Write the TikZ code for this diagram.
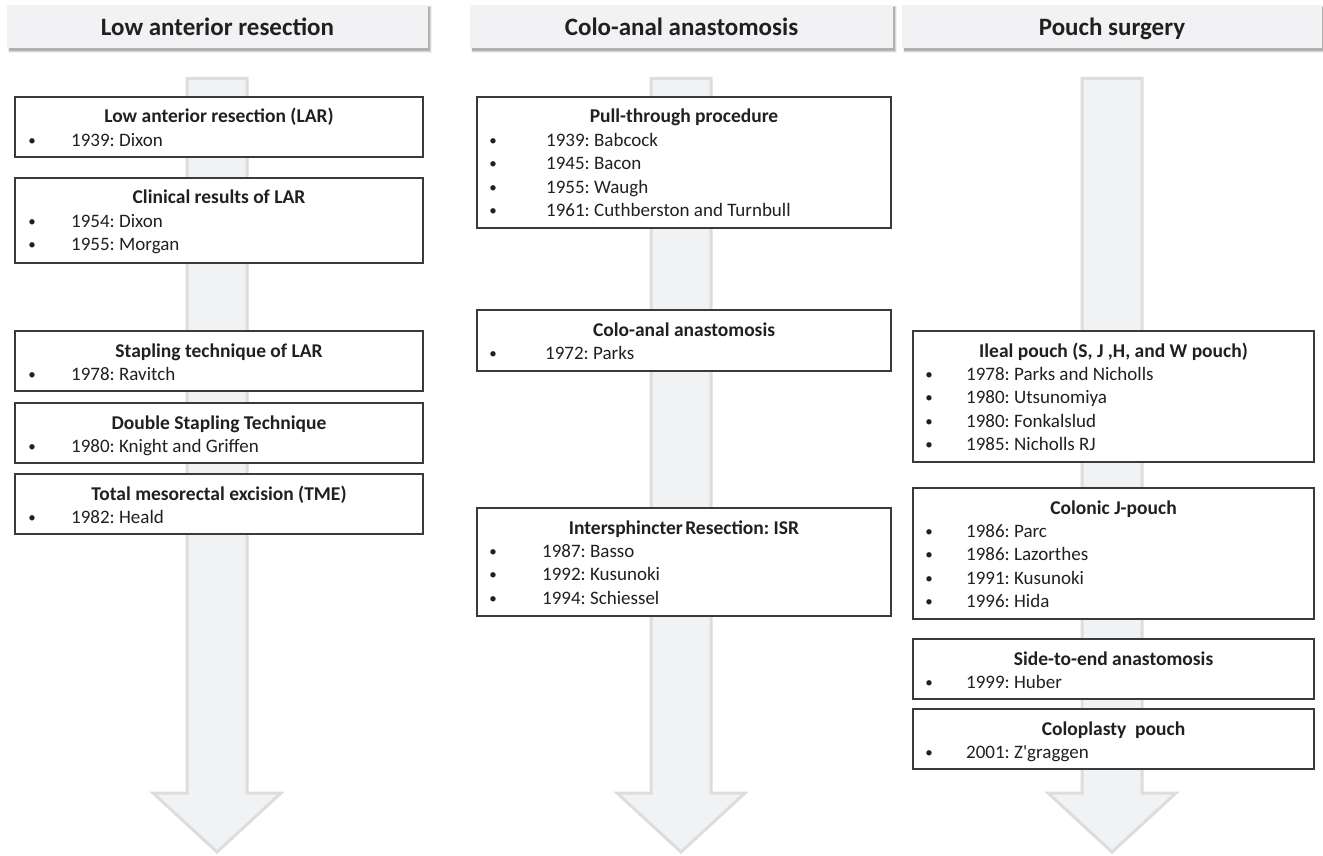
\documentclass[tikz,border=0pt]{standalone}
\usepackage{fontspec}
\setmainfont{Carlito}
\frenchspacing
\definecolor{arrfill}{HTML}{F1F2F4}
\definecolor{arrline}{HTML}{DCDDDF}
\definecolor{hdrfill}{HTML}{F2F2F4}
\definecolor{boxline}{HTML}{3A3A3A}
\definecolor{txt}{HTML}{231F20}
\newcommand{\tlbox}[9]{%
  \node[box, anchor=north west, minimum width={#3pt-#2pt}, minimum height={#5pt-#4pt}] (#1) at (#2,#4) {};
  \node[ttl] (#1-t) at ({(#2+#3)/2}, #4+26) {#8};
  \foreach \itxt [count=\k] in {#9} {
    \node[bul] (#1-b\k) at (#6, #4+25+23.4*\k) {•};
    \node[itm] (#1-i\k) at (#7, #4+26+23.4*\k) {\itxt};
  }%
}
\newcommand{\tlarrow}[1]{%
  \draw[arr] (#1-30,78.5) -- (#1+30,78.5) -- (#1+30,793) -- (#1+64,793) -- (#1,852) -- (#1-64,793) -- (#1-30,793) -- cycle;
}
\newcommand{\tlheader}[5]{%
  \fill[black, opacity=0.05] (#2+1,#3+1) rectangle (#4+4,#3+48);
  \fill[black, opacity=0.10] (#2+1.5,#3+1.5) rectangle (#4+3,#3+47);
  \fill[black, opacity=0.18] (#2+2,#3+2) rectangle (#4+2,#3+46);
  \node[hdr, anchor=north west, minimum width={#4pt-#2pt}, minimum height=43pt] (#1) at (#2,#3) {};
  \node[hdrtext] (#1-t) at ({(#2+#4)/2}, #3+30.5) {#5};
}
\begin{document}
\begin{tikzpicture}[x=1pt, y=-1pt,
  box/.style={draw=boxline, line width=1.1pt, fill=white, inner sep=0pt, outer sep=0pt},
  hdr/.style={fill=hdrfill, draw=none, inner sep=0pt, outer sep=0pt},
  arr/.style={draw=arrline, line width=3pt, fill=arrfill, line join=miter},
  hdrtext/.style={font=\fontsize{25}{30}\selectfont\bfseries, text=txt, anchor=base, inner sep=0pt},
  ttl/.style={font=\fontsize{19.5}{23}\selectfont\bfseries, text=txt, anchor=base, inner sep=0pt},
  itm/.style={font=\fontsize{19}{23}\selectfont, text=txt, anchor=base west, inner sep=0pt},
  bul/.style={font=\fontsize{15}{18}\selectfont, text=txt, anchor=base, inner sep=0pt}]
\useasboundingbox[fill=white] (0,0) rectangle (1323,856);

% headers
\tlheader{h1}{7}{5}{428}{Low anterior resection}
\tlheader{h2}{470}{5}{893}{Colo-anal anastomosis}
\tlheader{h3}{902}{5}{1322}{Pouch surgery}

% arrows
\tlarrow{217}
\tlarrow{681}
\tlarrow{1112}

% left column
\tlbox{l1}{15}{423}{97}{157}{32}{71}{Low anterior resection (LAR)}{1939: Dixon}
\tlbox{l2}{15}{423}{178}{263}{32}{71}{Clinical results of LAR}{1954: Dixon,1955: Morgan}
\tlbox{l3}{15}{423}{331}{391}{32}{71}{Stapling technique of LAR}{1978: Ravitch}
\tlbox{l4}{15}{423}{403}{463}{32}{71}{Double Stapling Technique}{1980: Knight and Griffen}
\tlbox{l5}{15}{423}{474}{534}{32}{71}{Total mesorectal excision (TME)}{1982: Heald}

% middle column
\tlbox{m1}{477}{891}{97}{228}{493}{546}{Pull-through procedure}{1939: Babcock,1945: Bacon,1955: Waugh,1961: Cuthberston and Turnbull}
\tlbox{m2}{477}{891}{310}{371}{493}{545}{Colo-anal anastomosis}{1972: Parks}
\tlbox{m3}{477}{891}{508}{616}{493}{542}{Intersphincter\hspace{-2pt} Resection: ISR}{1987: Basso,1992: Kusunoki,1994: Schiessel}

% right column
\tlbox{r1}{913}{1314}{331}{462}{929}{966}{Ileal pouch (S, J ,H, and W pouch)}{1978: Parks and Nicholls,1980: Utsunomiya,1980: Fonkalslud,1985: Nicholls RJ}
\tlbox{r2}{913}{1314}{488}{619}{929}{966}{Colonic J-pouch}{1986: Parc,1986: Lazorthes,1991: Kusunoki,1996: Hida}
\tlbox{r3}{913}{1314}{639}{699}{929}{966}{Side-to-end anastomosis}{1999: Huber}
\tlbox{r4}{913}{1314}{709}{769}{929}{966}{Coloplasty\ \ pouch}{2001: Z\textquotesingle graggen}
\end{tikzpicture}
\end{document}
